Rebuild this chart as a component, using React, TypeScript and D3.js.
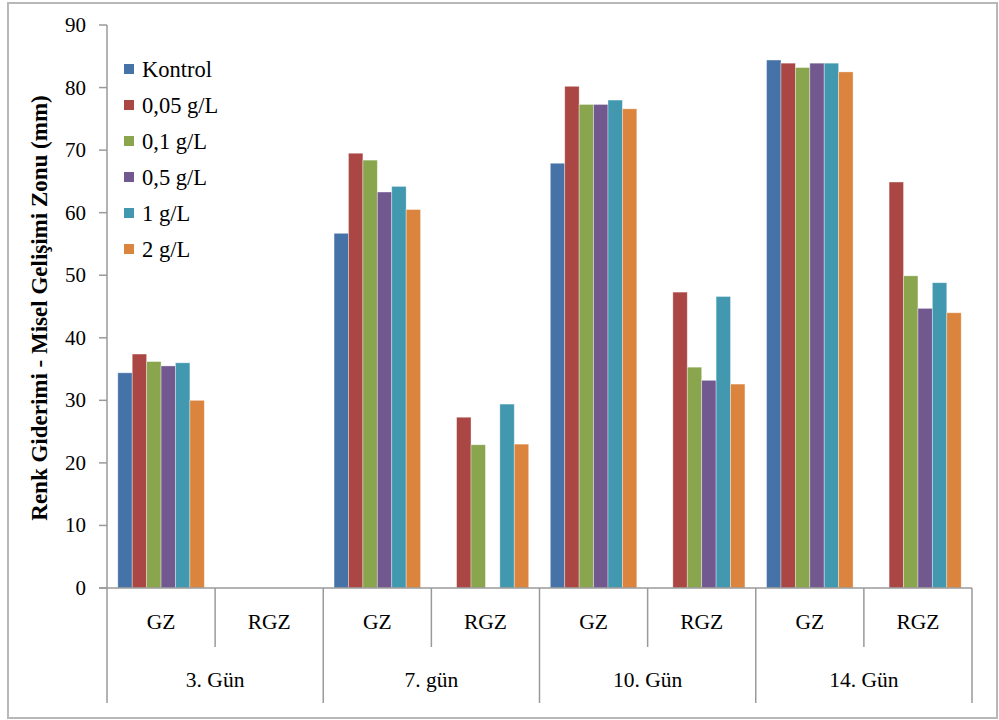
import React from "react";
import * as d3 from "d3";

// Six treatment series, eight bar groups (GZ / RGZ for each day)
const seriesNames = ["Kontrol", "0,05 g/L", "0,1 g/L", "0,5 g/L", "1 g/L", "2 g/L"];
const seriesColors = ["#4572A7", "#AA4643", "#89A54E", "#71588F", "#4198AF", "#DB843D"];

const zoneLabels = ["GZ", "RGZ", "GZ", "RGZ", "GZ", "RGZ", "GZ", "RGZ"];
const dayLabels = ["3. Gün", "7. gün", "10. Gün", "14. Gün"];

// values per series, one entry per group (0 = no zone measured)
const kontrol = [34.4, 0, 56.7, 0, 67.9, 0, 84.4, 0];
const g005 = [37.4, 0, 69.5, 27.3, 80.2, 47.3, 83.9, 64.9];
const g01 = [36.2, 0, 68.4, 22.9, 77.3, 35.3, 83.2, 49.9];
const g05 = [35.5, 0, 63.3, 0, 77.3, 33.2, 83.9, 44.7];
const g1 = [36.0, 0, 64.2, 29.4, 78.0, 46.6, 83.9, 48.8];
const g2 = [30.0, 0, 60.5, 23.0, 76.6, 32.6, 82.5, 44.0];
const seriesValues = [kontrol, g005, g01, g05, g1, g2];

const yTicks = [0, 10, 20, 30, 40, 50, 60, 70, 80, 90];
const yTitle = "Renk Giderimi - Misel Gelişimi Zonu (mm)";

const W = 999;
const H = 720;
const plot = { left: 107, right: 972, top: 25, bottom: 588 };
const innerSepBottom = 647;
const outerSepBottom = 703;
const axisColor = "#9a9a9a";
const font = "Liberation Serif, Tinos, Times New Roman, DejaVu Serif, Noto Serif, serif";
const tickSize = 21;
const catSize = 21.5;
const legendSize = 22.5;
const titleSize = 23;

export default function App() {
  const groups = d3.range(zoneLabels.length).map(String);
  const x0 = d3.scaleBand<string>().domain(groups).range([plot.left, plot.right]).padding(0);
  const x1 = d3
    .scaleBand<string>()
    .domain(seriesNames)
    .range([0, x0.bandwidth()])
    .paddingInner(0)
    .paddingOuter(0.75);
  const y = d3.scaleLinear().domain([0, 90]).range([plot.bottom, plot.top]);

  const bw = x0.bandwidth();

  return (
    <div style={{ position: "absolute", left: 0, top: 0 }}>
      <svg width={W} height={H} style={{ display: "block", background: "#fff", fontFamily: font }}>
        {/* chart frame */}
        <rect x={8} y={3} width={W - 10} height={715} fill="#fff" stroke="#b8b8b8" strokeWidth={2} />

        {/* bars */}
        {seriesValues.map((vals, si) =>
          vals.map((v, gi) =>
            v > 0 ? (
              <rect
                key={`${si}-${gi}`}
                x={(x0(String(gi)) as number) + (x1(seriesNames[si]) as number)}
                y={y(v)}
                width={x1.bandwidth()}
                height={y(0) - y(v)}
                fill={seriesColors[si]}
                stroke="rgba(255,255,255,0.45)"
                strokeWidth={0.8}
              />
            ) : null
          )
        )}

        {/* value axis */}
        <line x1={plot.left} x2={plot.left} y1={plot.top} y2={outerSepBottom} stroke={axisColor} strokeWidth={1.5} />
        {yTicks.map((t) => (
          <g key={t}>
            <line x1={plot.left - 8} x2={plot.left} y1={y(t)} y2={y(t)} stroke={axisColor} strokeWidth={1.5} />
            <text
              x={plot.left - 21}
              y={y(t)}
              textAnchor="end"
              dominantBaseline="central"
              fontFamily={font}
              fontSize={tickSize}
              fill="#000"
            >
              {t}
            </text>
          </g>
        ))}
        <text
          transform={`translate(39, 308) rotate(-90)`}
          textAnchor="middle"
          dominantBaseline="central"
          fontFamily={font}
          fontSize={titleSize}
          fontWeight="bold"
          fill="#000"
        >
          {yTitle}
        </text>

        {/* category axis */}
        <line x1={plot.left - 8} x2={plot.right} y1={plot.bottom} y2={plot.bottom} stroke={axisColor} strokeWidth={1.5} />
        {groups.map((g, gi) => {
          const xs = (x0(g) as number) + bw;
          const isOuter = gi % 2 === 1;
          return (
            <line
              key={`sep-${g}`}
              x1={xs}
              x2={xs}
              y1={plot.bottom}
              y2={isOuter ? outerSepBottom : innerSepBottom}
              stroke={axisColor}
              strokeWidth={1.5}
            />
          );
        })}
        {groups.map((g, gi) => (
          <text
            key={`zl-${g}`}
            x={(x0(g) as number) + bw / 2}
            y={622}
            textAnchor="middle"
            dominantBaseline="central"
            fontFamily={font}
            fontSize={catSize}
            fill="#000"
          >
            {zoneLabels[gi]}
          </text>
        ))}
        {dayLabels.map((d, di) => (
          <text
            key={`dl-${di}`}
            x={(x0(String(di * 2)) as number) + bw}
            y={680}
            textAnchor="middle"
            dominantBaseline="central"
            fontFamily={font}
            fontSize={catSize}
            fill="#000"
          >
            {d}
          </text>
        ))}

        {/* legend */}
        {seriesNames.map((name, i) => (
          <g key={name} transform={`translate(124, ${69 + i * 36})`}>
            <rect x={0} y={-5} width={10} height={10} fill={seriesColors[i]} />
            <text x={18} y={0} dominantBaseline="central" fontFamily={font} fontSize={legendSize} fill="#000">
              {name}
            </text>
          </g>
        ))}
      </svg>
    </div>
  );
}
